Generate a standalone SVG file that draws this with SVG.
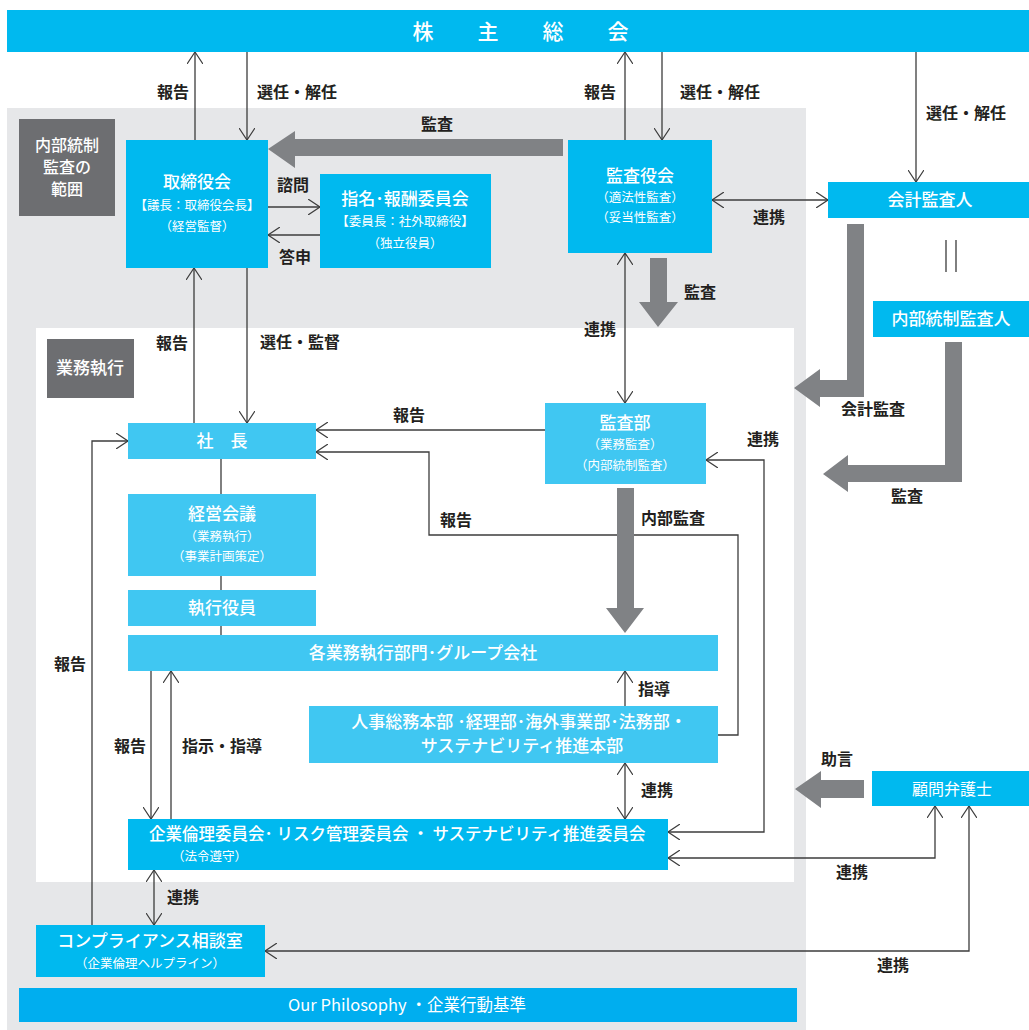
<svg xmlns="http://www.w3.org/2000/svg" width="1029" height="1030" viewBox="0 0 1029 1030">
<defs>
<style>
.bg{fill:#e6e7e9}
.dk{fill:#00b9ef}
.lt{fill:#40c7f2}
.gr{fill:#6d6e71}
.ga{fill:#808285}
.t{font-family:"Noto Sans CJK JP","Noto Sans",sans-serif;fill:#fff;text-anchor:middle}
.h{font-size:17px;font-weight:500}
.s{font-size:12.5px}
.lb{font-family:"Noto Sans CJK JP","Noto Sans",sans-serif;fill:#231f20;font-size:16px;font-weight:700;text-anchor:middle}
.ln{fill:none;stroke:#3c3c3c;stroke-width:1.3}
</style>
<marker id="a" viewBox="0 0 12 16" refX="12" refY="8" markerWidth="12" markerHeight="16" markerUnits="userSpaceOnUse" orient="auto-start-reverse">
<path d="M0,0 L12,8 L0,16" fill="none" stroke="#3c3c3c" stroke-width="1.2"/>
</marker>
</defs>

<rect class="bg" x="7" y="108" width="799" height="922"/>
<rect x="36" y="328" width="758" height="554" fill="#fff"/>

<g id="kabunushi"><rect class="dk" x="7" y="10" width="1022" height="42"/>
<text class="t" x="423 488 553 618" y="39" font-size="21" font-weight="500">株主総会</text></g>

<g id="naibu-hanni"><rect class="gr" x="19" y="119" width="96" height="97"/>
<text class="t" font-size="16" font-weight="500" x="67" y="151">内部統制</text><text class="t" font-size="16" font-weight="500" x="67" y="173">監査の</text><text class="t" font-size="16" font-weight="500" x="67" y="195">範囲</text></g>

<g id="gyomu-shikko"><rect class="gr" x="47" y="339" width="87" height="59"/>
<text class="t h" x="90" y="374">業務執行</text></g>

<g id="torishimariyakukai"><rect class="dk" x="126" y="140" width="142" height="128"/>
<text class="t h" x="197" y="188">取締役会</text>
<text class="t s" x="197" y="210">【議長：取締役会長】</text>
<text class="t s" x="197" y="231">（経営監督）</text></g>

<g id="shimei"><rect class="dk" x="320" y="174" width="171" height="94"/>
<text class="t h" x="405" y="205">指名･報酬委員会</text>
<text class="t s" x="405" y="226">【委員長：社外取締役】</text>
<text class="t s" x="405" y="248">（独立役員）</text></g>

<g id="kansayakukai"><rect class="dk" x="568" y="140" width="144" height="113"/>
<text class="t h" x="640" y="182">監査役会</text>
<text class="t s" x="640" y="202">（適法性監査）</text>
<text class="t s" x="640" y="222">（妥当性監査）</text></g>

<g id="kaikei"><rect class="dk" x="828" y="182" width="201" height="36"/>
<text class="t h" x="930" y="206">会計監査人</text></g>

<g id="naibu-kansanin"><rect class="dk" x="873" y="301" width="156" height="36"/>
<text class="t h" x="951" y="325">内部統制監査人</text></g>

<g id="shacho"><rect class="lt" x="128" y="423" width="188" height="36"/>
<text class="t h" x="222" y="447">社　長</text></g>

<g id="kansabu"><rect class="lt" x="545" y="403" width="161" height="81"/>
<text class="t h" x="625" y="429">監査部</text>
<text class="t s" x="625" y="449">（業務監査）</text>
<text class="t s" x="625" y="470">（内部統制監査）</text></g>

<g id="keiei-kaigi"><rect class="lt" x="128" y="494" width="188" height="82"/>
<text class="t h" x="222" y="520">経営会議</text>
<text class="t s" x="222" y="541">（業務執行）</text>
<text class="t s" x="222" y="561">（事業計画策定）</text></g>

<g id="shikko-yakuin"><rect class="lt" x="128" y="590" width="188" height="36"/>
<text class="t h" x="222" y="614">執行役員</text></g>

<g id="kaku-gyomu"><rect class="lt" x="128" y="635" width="590" height="36"/>
<text class="t h" x="423" y="659">各業務執行部門･グループ会社</text></g>

<g id="jinji"><rect class="lt" x="309" y="706" width="409" height="57"/>
<text class="t h" x="519" y="728">人事総務本部 ･経理部･海外事業部･法務部・</text>
<text class="t h" x="522" y="752">サステナビリティ推進本部</text></g>

<g id="kigyo-rinri"><rect class="dk" x="128" y="819" width="540" height="51"/>
<text class="t" x="149" y="840" font-size="16.5" font-weight="500" style="text-anchor:start">企業倫理委員会･ リスク管理委員会 ・ サステナビリティ推進委員会</text>
<text class="t s" x="172" y="861" style="text-anchor:start">（法令遵守）</text></g>

<g id="compliance"><rect class="dk" x="36" y="925" width="229" height="52"/>
<text class="t h" x="150" y="947">コンプライアンス相談室</text>
<text class="t s" x="150" y="968">（企業倫理ヘルプライン）</text></g>

<g id="komon"><rect class="dk" x="872" y="771" width="157" height="35"/>
<text class="t" x="952" y="795" font-size="16">顧問弁護士</text></g>

<g id="philosophy"><rect fill="#00aeef" x="19" y="988" width="778" height="34"/>
<text class="t" x="407" y="1011" font-size="16.5">Our Philosophy ・企業行動基準</text></g>

<g id="connectors">
<path class="ln" d="M195,140 V52" marker-end="url(#a)"/>
<path class="ln" d="M247,52 V140" marker-end="url(#a)"/>
<path class="ln" d="M625,140 V52" marker-end="url(#a)"/>
<path class="ln" d="M662,52 V140" marker-end="url(#a)"/>
<path class="ln" d="M916,52 V182" marker-end="url(#a)"/>
<path class="ln" d="M268,207 H320" marker-end="url(#a)"/>
<path class="ln" d="M320,235 H268" marker-end="url(#a)"/>
<path class="ln" d="M712,200 H828" marker-start="url(#a)" marker-end="url(#a)"/>
<path class="ln" d="M946,240 V272 M956,240 V272"/>
<path class="ln" d="M625,253 V403" marker-start="url(#a)" marker-end="url(#a)"/>
<path class="ln" d="M194,423 V268" marker-end="url(#a)"/>
<path class="ln" d="M247,268 V423" marker-end="url(#a)"/>
<path class="ln" d="M545,430 H316" marker-end="url(#a)"/>
<path class="ln" d="M718,735 H738 V535 H429 V452 H316" marker-end="url(#a)"/>
<path class="ln" d="M706,460 H764 V832 H668" marker-start="url(#a)" marker-end="url(#a)"/>
<path class="ln" d="M221,459 V494 M221,576 V590 M221,626 V635"/>
<path class="ln" d="M625,706 V671" marker-end="url(#a)"/>
<path class="ln" d="M625,763 V819" marker-start="url(#a)" marker-end="url(#a)"/>
<path class="ln" d="M151,671 V819" marker-end="url(#a)"/>
<path class="ln" d="M171,819 V671" marker-end="url(#a)"/>
<path class="ln" d="M154,870 V925" marker-start="url(#a)" marker-end="url(#a)"/>
<path class="ln" d="M92,925 V441 H128" marker-end="url(#a)"/>
<path class="ln" d="M935,806 V858 H668" marker-start="url(#a)" marker-end="url(#a)"/>
<path class="ln" d="M969,806 V951 H265" marker-start="url(#a)" marker-end="url(#a)"/>
<path class="ga" d="M563,139 V156 H295 V168 L268,149 L295,131 V139 Z"/>
<path class="ga" d="M650,258 H667 V302 H678 L658,327 L639,302 H650 Z"/>
<path class="ga" d="M617,488 H634 V608 H644 L625,633 L606,608 H617 Z"/>
<path class="ga" d="M847,224 H864 V397 H820 V407 L794,388 L820,369 V380 H847 Z"/>
<path class="ga" d="M945,342 H962 V482 H848 V492 L823,474 L848,455 V465 H945 Z"/>
<path class="ga" d="M864,780 V798 H821 V808 L795,789 L821,771 V780 Z"/>
<text class="lb" x="173" y="98">報告</text>
<text class="lb" x="297" y="98">選任・解任</text>
<text class="lb" x="600" y="98">報告</text>
<text class="lb" x="720" y="98">選任・解任</text>
<text class="lb" x="966" y="119">選任・解任</text>
<text class="lb" x="437" y="130">監査</text>
<text class="lb" x="293" y="191">諮問</text>
<text class="lb" x="295" y="263">答申</text>
<text class="lb" x="769" y="223">連携</text>
<text class="lb" x="700" y="298">監査</text>
<text class="lb" x="600" y="335">連携</text>
<text class="lb" x="172" y="349">報告</text>
<text class="lb" x="300" y="348">選任・監督</text>
<text class="lb" x="409" y="421">報告</text>
<text class="lb" x="873" y="415">会計監査</text>
<text class="lb" x="763" y="445">連携</text>
<text class="lb" x="907" y="502">監査</text>
<text class="lb" x="456" y="526">報告</text>
<text class="lb" x="673" y="524">内部監査</text>
<text class="lb" x="70" y="670">報告</text>
<text class="lb" x="654" y="695">指導</text>
<text class="lb" x="130" y="752">報告</text>
<text class="lb" x="222" y="752">指示・指導</text>
<text class="lb" x="837" y="765">助言</text>
<text class="lb" x="657" y="796">連携</text>
<text class="lb" x="852" y="878">連携</text>
<text class="lb" x="183" y="903">連携</text>
<text class="lb" x="893" y="971">連携</text>
</g>
</svg>
